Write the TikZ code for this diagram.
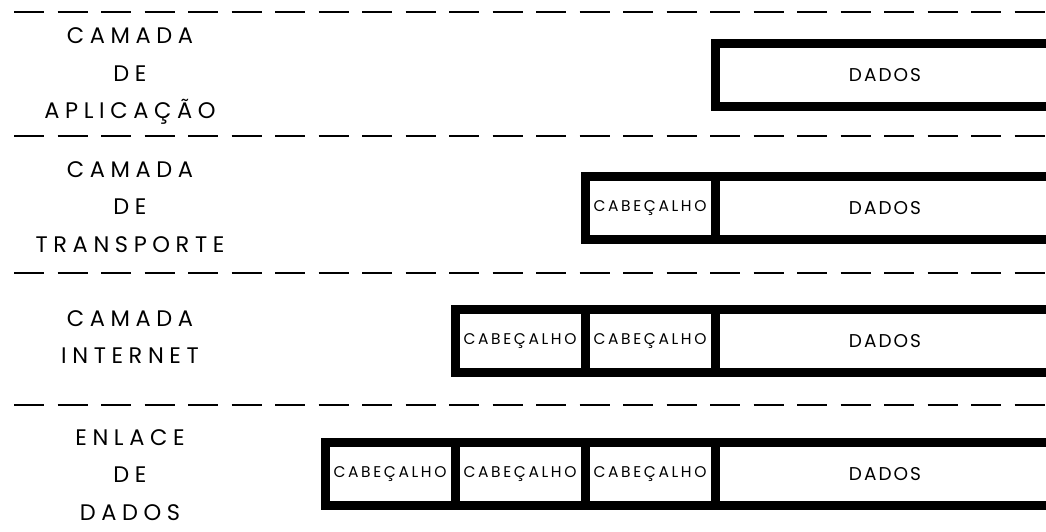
\documentclass[tikz,border=0pt]{standalone}
\usepackage{fontspec}
\usepackage{tikz}
\usetikzlibrary{positioning}
\newfontfamily\layerfont{Poppins}[LetterSpace=25]
\newfontfamily\cellfont{Poppins}[LetterSpace=17]
\newfontfamily\datafont{Poppins}[LetterSpace=11]

\begin{document}
\begin{tikzpicture}[
    x=1pt, y=-1pt,
    node distance=70pt and 0pt,
    cell/.style={rectangle, draw, line width=9pt, outer sep=0pt, inner sep=0pt, minimum height=63pt},
    header/.style={cell, minimum width=130pt, font=\fontsize{15.5}{15.5}\cellfont},
    payload/.style={cell, minimum width=340pt, font=\fontsize{18.5}{18.5}\datafont},
    layer/.style={align=center, font=\fontsize{22.5}{37.5}\layerfont},
    sep/.style={line width=2pt, dash pattern=on 30pt off 13.5pt},
]
\useasboundingbox (0,0) rectangle (1046,531);
\foreach \y in {12,136,273,405}
    \draw[sep] (14,\y) -- (1070,\y);
\node[payload] (dados1) at (885,75) {DADOS};
\node[payload, below=of dados1] (dados2) {DADOS};
\node[payload, below=of dados2] (dados3) {DADOS};
\node[payload, below=of dados3] (dados4) {DADOS};
\node[header, left=of dados2] (cab2a) {CABEÇALHO};
\node[header, left=of dados3] (cab3a) {CABEÇALHO};
\node[header, left=of cab3a] (cab3b) {CABEÇALHO};
\node[header, left=of dados4] (cab4a) {CABEÇALHO};
\node[header, left=of cab4a] (cab4b) {CABEÇALHO};
\node[header, left=of cab4b] (cab4c) {CABEÇALHO};
\node[layer] (aplicacao) at (130,76) {CAMADA\\DE\\APLICAÇÃO};
\node[layer] (transporte) at (130,207) {CAMADA\\DE\\TRANSPORTE};
\node[layer] (internet) at (130,337) {CAMADA\\INTERNET};
\node[layer] (enlace) at (130,475) {ENLACE\\DE\\DADOS};
\end{tikzpicture}
\end{document}
